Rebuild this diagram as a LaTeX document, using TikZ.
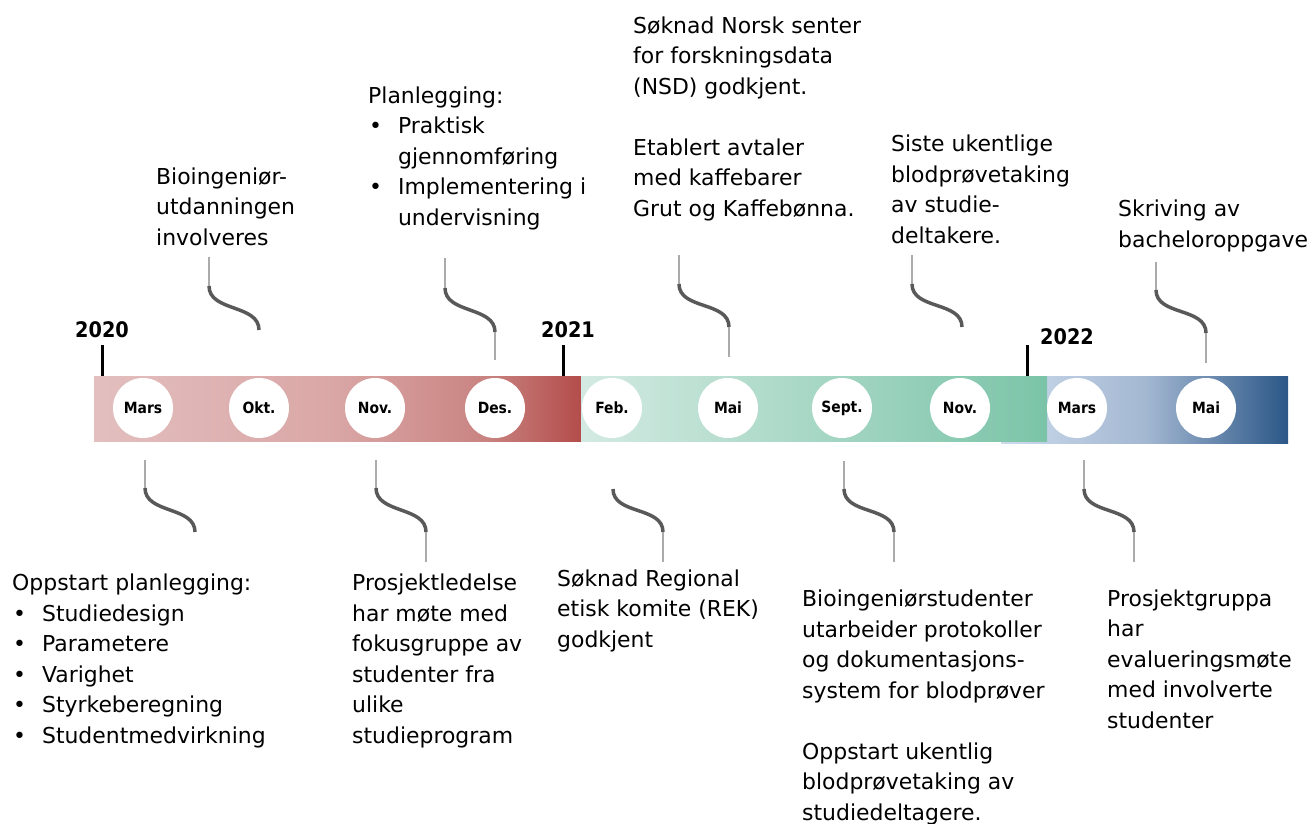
\documentclass[tikz,border=0pt]{standalone}
\usepackage{fontspec}
\setmainfont{DejaVu Sans}
\newfontfamily\condbf{DejaVu Sans Condensed Bold}
\usetikzlibrary{positioning}

\definecolor{redA}{HTML}{E3BFBF}
\definecolor{redB}{HTML}{D9A6A5}
\definecolor{redC}{HTML}{C98482}
\definecolor{redD}{HTML}{B34D4B}
\definecolor{greenA}{HTML}{D3EAE2}
\definecolor{greenC}{HTML}{7BC4A8}
\definecolor{blueA}{HTML}{CCDAEC}
\definecolor{blueB}{HTML}{A4B8D2}
\definecolor{blueC}{HTML}{2B5787}
\definecolor{swooshgray}{HTML}{595959}
\definecolor{stemgray}{HTML}{ABABAB}

\pgfdeclarehorizontalshading{redbar}{100bp}{color(0bp)=(redA); color(25bp)=(redA);
  color(50bp)=(redB); color(65bp)=(redC); color(75bp)=(redD); color(100bp)=(redD)}

\newcommand{\bul}[1]{\makebox[30pt][l]{\hspace{1pt}\textbullet}#1}

\begin{document}
\begin{tikzpicture}[x=1bp, y=-1bp,
    month/.style={circle, fill=white, minimum size=60bp, inner sep=0pt,
                  font=\condbf\fontsize{15.5}{17}\selectfont},
    yearlbl/.style={anchor=base, inner sep=0pt, font=\condbf\fontsize{21.5}{25}\selectfont},
    yeartick/.style={line width=3bp},
    stem/.style={stemgray, line width=1.5bp},
    swoosh/.style={swooshgray, line width=3.5bp},
    txt/.style={anchor=base west, align=left, inner sep=0pt,
                font=\fontsize{22}{30.6}\selectfont}]
    \useasboundingbox (0,0) rectangle (1309,823);

    % timeline bar
    \shade[left color=blueA, right color=blueC, middle color=blueB] (1001,376) rectangle (1288,443);
    \shade[shading=redbar] (94,376) rectangle (581,441);
    \shade[left color=greenA, right color=greenC] (581,376) rectangle (1047,441);

    % years
    \draw[yeartick] (102,345) -- (102,376);
    \draw[yeartick] (563,345) -- (563,376);
    \draw[yeartick] (1027,345) -- (1027,376);
    \node[yearlbl] (y2020) at (102,337) {2020};
    \node[yearlbl] (y2021) at (568,337) {2021};
    \node[yearlbl] (y2022) at (1067,344) {2022};

    % months
    \node[month] (mars20) at (143,408) {Mars};
    \node[month] (okt20)  at (259,408) {Okt.};
    \node[month] (nov20)  at (375,408) {Nov.};
    \node[month] (des20)  at (495,408) {Des.};
    \node[month] (feb21)  at (612,408) {Feb.};
    \node[month] (mai21)  at (728,408) {Mai};
    \node[month] (sep21)  at (842,408) {Sept.};
    \node[month] (nov21)  at (960,408) {Nov.};
    \node[month] (mars22) at (1077,408) {Mars};
    \node[month] (mai22)  at (1206,408) {Mai};

    % connectors
    \foreach \n/\x/\ya/\yb/\yc/\yd in {okt/209/257/286/330/330, des/445/258/288/332/360,
        maiA/679/255/284/327/357, novB/912/255/284/327/327, maiB/1156/262/290/333/363,
        mars/145/460/488/532/532, novA/376/460/488/532/562, feb/613/489/489/532/562,
        sept/844/461/489/532/562, marsB/1084/460/489/532/562} {
      \coordinate (\n-a) at (\x,\ya);
      \coordinate (\n-b) at (\x,\yb);
      \coordinate (\n-c) at (\x+50,\yc);
      \coordinate (\n-d) at (\x+50,\yd);
      \draw[stem] (\n-a) -- (\n-b);
      \draw[swoosh] (\n-b) .. controls +(0,26) and +(0,-26) .. (\n-c);
      \draw[stem] (\n-c) -- (\n-d);
    }

    % texts above (placed by the baseline of their last line)
    \node[txt] (invol) at (156,245) {Bioingeniør-\\utdanningen\\involveres};
    \node[txt] (plan) at (368,225) {Planlegging:\\\bul{Praktisk}\\\hspace*{30pt}gjennomføring\\\bul{Implementering i}\\\hspace*{30pt}undervisning};
    \node[txt] (nsd) at (633,216) {Søknad Norsk senter\\for forskningsdata\\(NSD) godkjent.\\[30.6pt]Etablert avtaler\\med kaffebarer\\Grut og Kaffebønna.};
    \node[txt] (siste) at (891,243) {Siste ukentlige\\blodprøvetaking\\av studie-\\deltakere.};
    \node[txt] (skriv) at (1118,247) {Skriving av\\bacheloroppgave};

    % texts below
    \node[txt] (oppstart) at (12,743) {Oppstart planlegging:\\\bul{Studiedesign}\\\bul{Parametere}\\\bul{Varighet}\\\bul{Styrkeberegning}\\\bul{Studentmedvirkning}};
    \node[txt] (prosj) at (352,743) {Prosjektledelse\\har møte med\\fokusgruppe av\\studenter fra\\ulike\\studieprogram};
    \node[txt] (rek) at (557,647) {Søknad Regional\\etisk komite (REK)\\godkjent};
    \node[txt] (bioing) at (802,820) {Bioingeniørstudenter\\utarbeider protokoller\\og dokumentasjons-\\system for blodprøver\\[30.6pt]Oppstart ukentlig\\blodprøvetaking av\\studiedeltagere.};
    \node[txt] (gruppa) at (1107,728) {Prosjektgruppa\\har\\evalueringsmøte\\med involverte\\studenter};
\end{tikzpicture}
\end{document}
